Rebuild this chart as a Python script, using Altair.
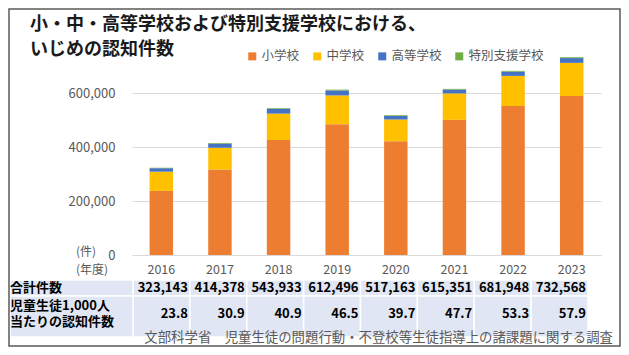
import altair as alt
import pandas as pd

# ---- data ----
years = [2016, 2017, 2018, 2019, 2020, 2021, 2022, 2023]
elementary = [237256, 317121, 425844, 484545, 420897, 500562, 551944, 588930]
junior_high = [71309, 80424, 97704, 106524, 80877, 97937, 111404, 122703]
high_school = [12874, 14789, 17709, 18352, 13126, 14157, 15568, 17611]
special_needs = [1704, 2044, 2676, 3075, 2263, 2695, 3032, 3324]
totals = [323143, 414378, 543933, 612496, 517163, 615351, 681948, 732568]
per_1000 = [23.8, 30.9, 40.9, 46.5, 39.7, 47.7, 53.3, 57.9]
school_types = ["小学校", "中学校", "高等学校", "特別支援学校"]
type_colors = ["#ED7D31", "#FFC000", "#4472C4", "#70AD47"]
y_ticks = [0, 200000, 400000, 600000]
title_line1 = "小・中・高等学校および特別支援学校における、"
title_line2 = "いじめの認知件数"
unit_label = "(件)"
year_label = "(年度)"
row1_label = "合計件数"
row2_label = ["児童生徒1,000人", "当たりの認知件数"]
source_text = "文部科学省　児童生徒の問題行動・不登校等生徒指導上の諸課題に関する調査"

FONT = "Noto Sans CJK JP"
GRAY = "#595959"
CELL = "#E0E6F3"

series = [elementary, junior_high, high_school, special_needs]
rows = []
for k, (name, vals) in enumerate(zip(school_types, series)):
    for y, v in zip(years, vals):
        rows.append({"year": y, "type": name, "count": v, "ord": k})
long_df = pd.DataFrame(rows)
table_df = pd.DataFrame({"year": years, "total": totals, "per1000": per_1000})
one = pd.DataFrame({"a": [0]})

W, H = 469, 216
PAD = {"left": 124, "top": 31, "right": 20, "bottom": 92}

bars = alt.Chart(long_df).mark_bar().encode(
    x=alt.X("year:O",
            scale=alt.Scale(paddingInner=0.6, paddingOuter=0.3),
            axis=alt.Axis(title=None, labelAngle=0, labelColor=GRAY, labelFontSize=12.5,
                          labelPadding=8, ticks=False, domain=True, domainColor="#D9D9D9",
                          grid=False, labelFont=FONT)),
    y=alt.Y("count:Q", stack="zero",
            scale=alt.Scale(domain=[0, 800000], nice=False),
            axis=alt.Axis(title=None, values=y_ticks, format=",.0f", labelColor=GRAY,
                          labelFontSize=13, labelPadding=17, ticks=False, domain=False,
                          gridColor="#D9D9D9", labelFont=FONT)),
    color=alt.Color("type:N",
                    scale=alt.Scale(domain=school_types, range=type_colors),
                    legend=alt.Legend(title=None, orient="none", legendX=114, legendY=11,
                                      direction="horizontal", symbolType="square",
                                      symbolSize=64, symbolStrokeWidth=0,
                                      labelFontSize=12.5, labelColor=GRAY, labelFont=FONT,
                                      columnPadding=11, labelOffset=3, padding=0)),
    order=alt.Order("ord:Q"),
)

col_scale = alt.Scale(domain=[0, 8], range=[1, 456])
tbase = alt.Chart(table_df).transform_calculate(c0="datum.year - 2016", c1="datum.year - 2015")

cells1 = tbase.mark_rect(fill=CELL, stroke="white", strokeWidth=1.5).encode(
    x=alt.X("c0:Q", scale=col_scale, axis=None), x2="c1:Q",
    y=alt.value(241), y2=alt.value(257))
cells2 = tbase.mark_rect(fill=CELL, stroke="white", strokeWidth=1.5).encode(
    x=alt.X("c0:Q", scale=col_scale, axis=None), x2="c1:Q",
    y=alt.value(257), y2=alt.value(298))
lab1 = alt.Chart(one).mark_rect(fill=CELL, stroke="white", strokeWidth=1.5).encode(
    x=alt.value(-122), x2=alt.value(1), y=alt.value(241), y2=alt.value(257))
lab2 = alt.Chart(one).mark_rect(fill=CELL, stroke="white", strokeWidth=1.5).encode(
    x=alt.value(-122), x2=alt.value(1), y=alt.value(257), y2=alt.value(298))

val1 = tbase.mark_text(align="right", baseline="middle", dx=-2, fontWeight="bold",
                       fontSize=13, color="black", font=FONT).encode(
    x=alt.X("c1:Q", scale=col_scale, axis=None), y=alt.value(249),
    text=alt.Text("total:Q", format=","))
val2 = tbase.mark_text(align="right", baseline="middle", dx=-2, fontWeight="bold",
                       fontSize=13, color="black", font=FONT).encode(
    x=alt.X("c1:Q", scale=col_scale, axis=None), y=alt.value(275),
    text=alt.Text("per1000:Q", format=".1f"))

table = alt.layer(cells1, cells2, lab1, lab2, val1, val2)


def label(text, x, y, size=13, weight="normal", color="black", align="left", lh=16):
    return alt.Chart(one).mark_text(text=text, align=align, baseline="middle",
                                    fontSize=size, fontWeight=weight, color=color,
                                    lineHeight=lh, font=FONT).encode(
        x=alt.value(x), y=alt.value(y))


texts = [
    label(title_line1, -102, -14, size=18, weight="bold", color="#1A1A1A"),
    label(title_line2, -102, 11, size=18, weight="bold", color="#1A1A1A"),
    label(unit_label, -46, 213, size=12, color=GRAY, align="center"),
    label(year_label, -40, 231, size=12, color=GRAY, align="center"),
    label(row1_label, -122, 248.5, weight="bold"),
    label(row2_label, -122, 266.5, weight="bold", lh=16),
    label(source_text, 481, 299, size=13.4, color=GRAY, align="right"),
]

border = alt.Chart(one).mark_rect(fill="transparent", stroke=GRAY, strokeWidth=1.5).encode(
    x=alt.value(-123), x2=alt.value(W + PAD["right"] - 1),
    y=alt.value(-30), y2=alt.value(H + PAD["bottom"] - 1))

chart = alt.layer(bars, table, *texts, border).resolve_scale(x="independent").properties(
    width=W, height=H,
    autosize=alt.AutoSizeParams(type="none"),
    padding=PAD,
).configure(font=FONT).configure_view(strokeWidth=0)

chart.save("out.html", embed_options={"renderer": "svg", "actions": False})
